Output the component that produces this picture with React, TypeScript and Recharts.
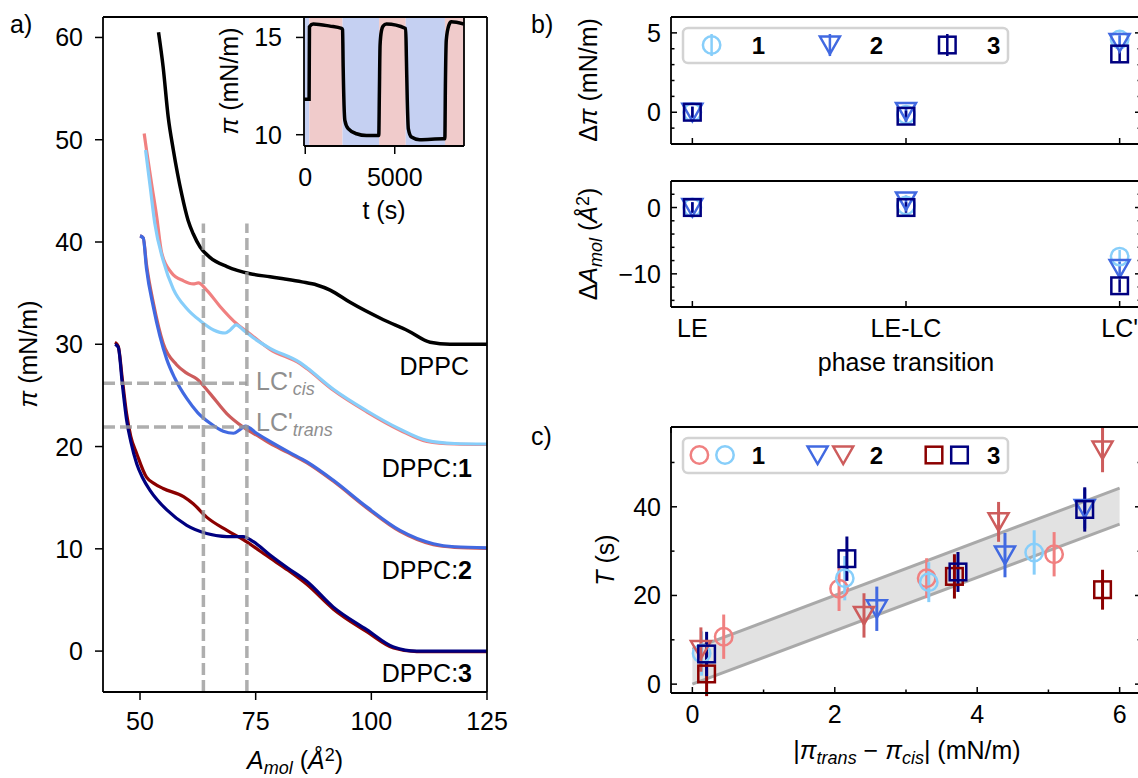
import React from 'react'
import {
  LineChart, Line, ComposedChart, Scatter, Area, XAxis, YAxis,
  ReferenceLine, ReferenceArea, ErrorBar,
} from 'recharts'

const FONT = '"Liberation Sans", Arial, sans-serif'
const FS = 25

// a) isotherms: molecular area (Å²) and surface pressure (mN/m)
const dppcA = [54.0, 55.0, 56.1, 57.2, 59.0, 60.4, 61.5, 63.0, 65.1, 68.8, 73.8, 78.1, 81.0, 85.0, 88.2, 91.1, 95.4, 102.6, 108.0, 112.7, 117.0, 125.0]
const dppcPi = [60.5, 57.1, 52.2, 49.0, 44.7, 42.1, 40.8, 39.5, 38.5, 37.6, 36.9, 36.6, 36.4, 36.1, 35.8, 35.3, 34.1, 32.4, 31.3, 30.2, 30.0, 30.0]

const d1CisA = [50.9, 51.4, 52.5, 53.6, 54.7, 56.8, 59.4, 61.5, 62.6, 64.4, 67.3, 70.9, 73.8, 78.1, 84.6, 86.1, 91.8, 99.0, 106.2, 112.0, 118.0, 125.0]
const d1CisPi = [50.6, 49.0, 45.7, 42.5, 38.9, 37.0, 36.2, 35.9, 36.0, 35.3, 33.7, 32.0, 31.0, 29.5, 28.1, 27.6, 25.5, 23.4, 21.6, 20.5, 20.25, 20.2]
const d1TransA = [51.2, 52.2, 53.2, 55.0, 57.2, 60.1, 63.0, 65.9, 68.4, 69.5, 70.8, 72.3, 75.2, 78.1, 84.6, 86.1, 91.8, 99.0, 106.2, 112.0, 118.0, 125.0]
const d1TransPi = [49.0, 45.4, 41.8, 38.2, 35.4, 33.5, 32.3, 31.4, 31.1, 31.4, 31.9, 31.4, 30.4, 29.6, 28.2, 27.7, 25.6, 23.5, 21.7, 20.6, 20.3, 20.25]

const d2CisA = [50.0, 50.7, 51.4, 52.9, 55.0, 57.9, 60.0, 62.3, 65.1, 68.8, 72.3, 76.0, 78.1, 82.0, 86.1, 91.8, 99.0, 106.2, 113.4, 118.0, 125.0]
const d2CisPi = [40.6, 40.4, 37.8, 34.0, 30.1, 28.0, 27.2, 26.6, 25.2, 23.2, 21.9, 20.9, 20.3, 19.4, 18.4, 16.6, 14.0, 11.7, 10.4, 10.15, 10.05]
const d2TransA = [50.0, 50.7, 51.4, 52.9, 54.3, 55.8, 57.5, 60.1, 62.5, 65.1, 68.0, 70.2, 71.6, 72.8, 75.2, 78.1, 82.0, 86.1, 91.8, 99.0, 106.2, 113.4, 118.0, 125.0]
const d2TransPi = [40.6, 40.4, 37.4, 33.6, 30.8, 28.5, 26.7, 24.7, 23.3, 22.3, 21.5, 21.3, 21.65, 22.0, 21.3, 20.5, 19.5, 18.5, 16.7, 14.1, 11.8, 10.5, 10.2, 10.1]

const d3CisA = [44.6, 45.3, 46.2, 47.1, 48.0, 49.3, 51.4, 53.0, 55.0, 59.4, 61.5, 64.4, 68.8, 72.3, 78.1, 82.0, 86.1, 91.8, 99.0, 104.8, 109.8, 125.0]
const d3CisPi = [30.2, 29.8, 26.5, 23.2, 21.0, 19.3, 17.0, 16.4, 15.9, 15.1, 14.4, 13.1, 11.8, 10.9, 9.1, 7.9, 6.5, 4.1, 1.9, 0.3, -0.05, -0.05]
const d3TransA = [44.6, 45.3, 46.2, 47.1, 48.0, 49.3, 50.5, 52.2, 55.8, 60.1, 64.4, 68.8, 72.3, 74.5, 78.1, 82.0, 86.1, 91.8, 99.0, 104.8, 109.8, 125.0]
const d3TransPi = [30.0, 29.7, 26.0, 22.6, 20.5, 18.3, 17.0, 15.7, 13.8, 12.3, 11.5, 11.2, 11.2, 10.7, 9.4, 8.1, 6.8, 4.3, 2.1, 0.4, 0.0, 0.0]

const lcAreas = [63.7, 73.1]
const lcPressures = [26.2, 21.9]

// inset: pressure vs time under alternating illumination
const insetT = [-70, 215, 235, 446, 1377, 2029, 2085, 2118, 2213, 2397, 2865, 3422, 4108, 4140, 4180, 4260, 4348, 4537, 5613, 5650, 5700, 5760, 5931, 6394, 7692, 7800, 7830, 7880, 8026, 8160, 8860]
const insetPi = [11.82, 11.82, 15.55, 15.69, 15.58, 15.46, 15.4, 13.5, 10.74, 10.31, 10.05, 9.96, 9.96, 12.0, 14.6, 15.35, 15.58, 15.69, 15.46, 14.0, 11.8, 10.3, 9.88, 9.74, 9.79, 9.79, 12.5, 14.86, 15.63, 15.8, 15.69]
const bandStart = [-70, 223, 2083, 4125, 5613, 7805]
const bandEnd = [223, 2083, 4125, 5613, 7805, 8870]
const bandColor = ['#c5d0f2', '#f0cbcb', '#c5d0f2', '#f0cbcb', '#c5d0f2', '#f0cbcb']

// b) changes at each phase transition
const phases = ['LE', 'LE-LC', "LC'"]
const dPi1 = [0.0, -0.15, 4.58]
const dPi2 = [0.0, 0.05, 4.39]
const dPi3 = [0.0, -0.25, 3.67]
const dPiErr = [0.35, 0.35, 0.45]
const dA1 = [0.0, 0.3, -7.4]
const dA2 = [0.0, 1.0, -9.2]
const dA3 = [0.0, 0.0, -11.8]
const dAErr = [0.8, 0.8, 1.0]

// c) relaxation time vs pressure difference
const c1RedX = [0.44, 2.06, 3.29, 5.08]
const c1RedY = [10.7, 21.5, 23.9, 29.3]
const c1BlueX = [0.13, 2.14, 3.32, 4.8]
const c1BlueY = [6.9, 23.9, 23.0, 29.7]
const c2BlueX = [2.59, 4.39, 5.51]
const c2BlueY = [17.0, 29.1, 39.6]
const c2RedX = [0.12, 2.41, 4.3, 5.76]
const c2RedY = [7.8, 15.5, 36.6, 52.8]
const c3RedX = [0.2, 3.68, 5.76]
const c3RedY = [2.3, 24.3, 21.3]
const c3BlueX = [0.2, 2.17, 3.73, 5.51]
const c3BlueY = [6.8, 28.3, 25.3, 39.4]
const cErr = [5, 5, 4.5, 5]
const fitX = [0, 6]
const fitLow = [0, 36.1]
const fitHigh = [7.9, 44.2]

const zip = (xs: number[], ys: number[], es?: number[]) =>
  xs.map((x, i) => ({ x, y: ys[i], e: es ? es[i % es.length] : 0 }))

const AX = { stroke: '#000', strokeWidth: 1.8 }

function AxisTick(props: any) {
  const { x, y, payload, side, gap = 0, inward = false, majors, majorLen = 6, minorLen = 3.5, fmt } = props
  const v = payload?.value
  const isMajor = !majors || majors.includes(v)
  const len = isMajor ? majorLen : minorLen
  const label = fmt ? fmt(v) : ''
  const dir = inward ? 1 : -1
  const ts = { fontFamily: FONT, fontSize: FS, fill: '#000' }
  let line: React.ReactNode = null
  let text: React.ReactNode = null
  if (side === 'left') {
    const ax = x + gap
    line = <line x1={ax} y1={y} x2={ax + dir * len} y2={y} stroke="#000" strokeWidth={1.5} />
    if (label) text = <text x={x} y={y} dy="0.36em" textAnchor="end" style={ts}>{label}</text>
  } else if (side === 'right') {
    const ax = x - gap
    line = <line x1={ax} y1={y} x2={ax - dir * len} y2={y} stroke="#000" strokeWidth={1.5} />
  } else if (side === 'bottom') {
    const ax = y - gap
    line = <line x1={x} y1={ax} x2={x} y2={ax - dir * len} stroke="#000" strokeWidth={1.5} />
    if (label) text = <text x={x} y={y} dy="0.72em" textAnchor="middle" style={ts}>{label}</text>
  } else {
    const ax = y + gap
    line = <line x1={x} y1={ax} x2={x} y2={ax + dir * len} stroke="#000" strokeWidth={1.5} />
  }
  return <g>{line}{text}</g>
}

function Marker({ kind, cx, cy, color, sw = 2.5 }: { kind: string, cx: number, cy: number, color: string, sw?: number }) {
  if (cx == null || cy == null) return null
  if (kind === 'o') return <circle cx={cx} cy={cy} r={8.7} fill="none" stroke={color} strokeWidth={sw} />
  if (kind === 'v') return <path d={`M${cx - 10},${cy - 8.5} L${cx + 10},${cy - 8.5} L${cx},${cy + 9} Z`} fill="none" stroke={color} strokeWidth={sw} />
  return <rect x={cx - 8.3} y={cy - 8.3} width={16.6} height={16.6} fill="none" stroke={color} strokeWidth={sw} />
}

function Txt({ x, y, children, rotate = false, anchor = 'middle', style }: any) {
  const tx = anchor === 'end' ? '-100%' : anchor === 'start' ? '0' : '-50%'
  return (
    <div style={{
      position: 'absolute', left: x, top: y, whiteSpace: 'nowrap', lineHeight: 1,
      fontFamily: FONT, fontSize: FS, color: '#000',
      transform: `translate(${tx}, -50%)${rotate ? ' rotate(-90deg)' : ''}`,
      ...style,
    }}>{children}</div>
  )
}

const Sub = ({ children }: any) => (
  <span style={{ fontSize: '0.72em', fontStyle: 'italic', position: 'relative', top: '0.3em' }}>{children}</span>
)
const Sup = ({ children }: any) => (
  <span style={{ fontSize: '0.72em', position: 'relative', top: '-0.45em' }}>{children}</span>
)

function IsothermChart() {
  const series = [
    { key: 'dppc', data: zip(dppcA, dppcPi), color: '#000000', w: 3.5 },
    { key: 'd1c', data: zip(d1CisA, d1CisPi), color: '#f08080', w: 3.2 },
    { key: 'd1t', data: zip(d1TransA, d1TransPi), color: '#87cefa', w: 3.2 },
    { key: 'd2c', data: zip(d2CisA, d2CisPi), color: '#cd5c5c', w: 3.2 },
    { key: 'd2t', data: zip(d2TransA, d2TransPi), color: '#4169e1', w: 3.2 },
    { key: 'd3c', data: zip(d3CisA, d3CisPi), color: '#8b0000', w: 3.2 },
    { key: 'd3t', data: zip(d3TransA, d3TransPi), color: '#000080', w: 3.2 },
  ]
  const dash = { stroke: '#9a9a9a', strokeOpacity: 0.8, strokeWidth: 3.5, strokeDasharray: '12 5' }
  return (
    <LineChart width={530} height={778} margin={{ top: 16, right: 42, left: 0, bottom: 0 }}>
      <XAxis xAxisId="b" dataKey="x" type="number" domain={[42, 125]} allowDataOverflow ticks={[50, 75, 100, 125]}
        interval={0} height={86} axisLine={AX} tickLine={false} tickSize={0} tickMargin={20}
        tick={<AxisTick side="bottom" gap={20} majorLen={8} fmt={(v: number) => String(v)} />} />
      <XAxis xAxisId="t" orientation="top" type="number" domain={[42, 125]} allowDataOverflow ticks={[50]}
        height={1} axisLine={AX} tickLine={false} tick={false} />
      <YAxis yAxisId="l" type="number" domain={[-4, 62]} allowDataOverflow ticks={[0, 10, 20, 30, 40, 50, 60]}
        interval={0} width={103} axisLine={AX} tickLine={false} tickSize={0} tickMargin={20}
        tick={<AxisTick side="left" gap={20} majorLen={8} fmt={(v: number) => String(v)} />} />
      <YAxis yAxisId="r" orientation="right" type="number" domain={[-4, 62]} allowDataOverflow ticks={[0]}
        width={1} axisLine={AX} tickLine={false} tick={false} />
      {series.map(s => (
        <Line key={s.key} xAxisId="b" yAxisId="l" data={s.data} dataKey="y" type="monotone"
          stroke={s.color} strokeWidth={s.w} dot={false} isAnimationActive={false} />
      ))}
      {lcAreas.map(a => (
        <ReferenceLine key={'v' + a} xAxisId="b" yAxisId="l" segment={[{ x: a, y: -4 }, { x: a, y: 41.8 }]} {...dash} />
      ))}
      {lcPressures.map(p => (
        <ReferenceLine key={'h' + p} xAxisId="b" yAxisId="l" segment={[{ x: 42, y: p }, { x: lcAreas[1], y: p }]} {...dash} />
      ))}
    </LineChart>
  )
}

function InsetChart() {
  const data = zip(insetT, insetPi)
  return (
    <LineChart width={250} height={230} margin={{ top: 16, right: 5, left: 0, bottom: 0 }}>
      <XAxis xAxisId="b" dataKey="x" type="number" domain={[-70, 8870]} allowDataOverflow ticks={[0, 5000]}
        interval={0} height={84} axisLine={AX} tickLine={false} tickSize={0} tickMargin={22}
        tick={<AxisTick side="bottom" gap={22} majorLen={8} fmt={(v: number) => String(v)} />} />
      <XAxis xAxisId="t" orientation="top" type="number" domain={[-70, 8870]} allowDataOverflow ticks={[0]}
        height={1} axisLine={AX} tickLine={false} tick={false} />
      <YAxis yAxisId="l" type="number" domain={[9.42, 16.05]} allowDataOverflow ticks={[10, 15]}
        interval={0} width={84} axisLine={AX} tickLine={false} tickSize={0} tickMargin={22}
        tick={<AxisTick side="left" gap={22} majorLen={8} fmt={(v: number) => String(v)} />} />
      <YAxis yAxisId="r" orientation="right" type="number" domain={[9.42, 16.05]} allowDataOverflow ticks={[10]}
        width={1} axisLine={AX} tickLine={false} tick={false} />
      {bandStart.map((s, i) => (
        <ReferenceArea key={i} xAxisId="b" yAxisId="l" x1={s} x2={bandEnd[i]} fill={bandColor[i]} fillOpacity={1} stroke="none" />
      ))}
      <Line xAxisId="b" yAxisId="l" data={data} dataKey="y" type="monotone" stroke="#000" strokeWidth={3.5}
        dot={false} isAnimationActive={false} />
    </LineChart>
  )
}

// frame axes with inward ticks on all four sides
function FrameAxes({ xDomain, xTicks, xMajors, xFmt, yDomain, yTicks, yMajors, yFmt, xHeight }: any) {
  return [
    <XAxis key="xb" xAxisId="b" dataKey="x" type="number" domain={xDomain} allowDataOverflow ticks={xTicks}
      interval={0} height={xHeight} axisLine={AX} tickLine={false} tickSize={0} tickMargin={12}
      tick={<AxisTick side="bottom" gap={12} inward majors={xMajors} fmt={xFmt} />} />,
    <XAxis key="xt" xAxisId="t" orientation="top" type="number" domain={xDomain} allowDataOverflow ticks={xTicks}
      interval={0} height={1} axisLine={AX} tickLine={false} tickSize={0} tickMargin={0}
      tick={<AxisTick side="top" inward majors={xMajors} />} />,
    <YAxis key="yl" yAxisId="l" dataKey="y" type="number" domain={yDomain} allowDataOverflow ticks={yTicks}
      interval={0} width={131} axisLine={AX} tickLine={false} tickSize={0} tickMargin={10}
      tick={<AxisTick side="left" gap={10} inward majors={yMajors} fmt={yFmt} />} />,
    <YAxis key="yr" yAxisId="r" orientation="right" type="number" domain={yDomain} allowDataOverflow ticks={yTicks}
      interval={0} width={1} axisLine={AX} tickLine={false} tickSize={0} tickMargin={0}
      tick={<AxisTick side="right" inward majors={yMajors} />} />,
  ]
}

function ScatterSet({ sets, ew }: { sets: { key: string, data: any[], kind: string, color: string }[], ew: number }) {
  return sets.map(s => (
    <Scatter key={s.key} xAxisId="b" yAxisId="l" data={s.data} dataKey="y" isAnimationActive={false}
      shape={(p: any) => <Marker kind={s.kind} cx={p.cx} cy={p.cy} color={s.color} />}>
      <ErrorBar dataKey="e" direction="y" width={0} stroke={s.color} strokeWidth={ew} isAnimationActive={false} />
    </Scatter>
  ))
}

const idx = [0, 1, 2]
const phaseFmt = (v: number) => phases[v] ?? ''

function DeltaPiChart() {
  const sets = [
    { key: 's1', data: zip(idx, dPi1, dPiErr), kind: 'o', color: '#87cefa' },
    { key: 's2', data: zip(idx, dPi2, dPiErr), kind: 'v', color: '#4169e1' },
    { key: 's3', data: zip(idx, dPi3, dPiErr), kind: 's', color: '#000080' },
  ]
  return (
    <ComposedChart width={603} height={150} margin={{ top: 16, right: 1, left: 0, bottom: 0 }}>
      {FrameAxes({
        xDomain: [-0.1, 2.1], xTicks: idx, xMajors: idx, xFmt: () => '', xHeight: 6,
        yDomain: [-2, 6], yTicks: [-2, -1, 0, 1, 2, 3, 4, 5, 6], yMajors: [0, 5], yFmt: (v: number) => (v === 0 || v === 5 ? String(v) : ''),
      })}
      {ScatterSet({ sets, ew: 2.5 })}
    </ComposedChart>
  )
}

function DeltaAChart() {
  const sets = [
    { key: 's1', data: zip(idx, dA1, dAErr), kind: 'o', color: '#87cefa' },
    { key: 's2', data: zip(idx, dA2, dAErr), kind: 'v', color: '#4169e1' },
    { key: 's3', data: zip(idx, dA3, dAErr), kind: 's', color: '#000080' },
  ]
  return (
    <ComposedChart width={603} height={200} margin={{ top: 16, right: 1, left: 0, bottom: 0 }}>
      {FrameAxes({
        xDomain: [-0.1, 2.1], xTicks: idx, xMajors: idx, xFmt: phaseFmt, xHeight: 57,
        yDomain: [-15, 4], yTicks: [-14, -12, -10, -8, -6, -4, -2, 0, 2], yMajors: [0, -10],
        yFmt: (v: number) => (v === 0 ? '0' : v === -10 ? '\u221210' : ''),
      })}
      {ScatterSet({ sets, ew: 2.5 })}
    </ComposedChart>
  )
}

function RelaxChart() {
  const band = fitX.map((x, i) => ({ x, low: fitLow[i], high: fitHigh[i], band: [fitLow[i], fitHigh[i]] }))
  const sets = [
    { key: 'c1r', data: zip(c1RedX, c1RedY, cErr), kind: 'o', color: '#f08080' },
    { key: 'c1b', data: zip(c1BlueX, c1BlueY, cErr), kind: 'o', color: '#87cefa' },
    { key: 'c2b', data: zip(c2BlueX, c2BlueY, cErr), kind: 'v', color: '#4169e1' },
    { key: 'c2r', data: zip(c2RedX, c2RedY, cErr), kind: 'v', color: '#cd5c5c' },
    { key: 'c3r', data: zip(c3RedX, c3RedY, cErr), kind: 's', color: '#8b0000' },
    { key: 'c3b', data: zip(c3BlueX, c3BlueY, cErr), kind: 's', color: '#000080' },
  ]
  return (
    <ComposedChart width={603} height={368} data={band} margin={{ top: 16, right: 1, left: 0, bottom: 0 }}>
      {FrameAxes({
        xDomain: [-0.3, 6.3], xTicks: [0, 1, 2, 3, 4, 5, 6], xMajors: [0, 2, 4, 6],
        xFmt: (v: number) => (v % 2 === 0 ? String(v) : ''), xHeight: 85,
        yDomain: [-2, 58], yTicks: [0, 10, 20, 30, 40, 50], yMajors: [0, 20, 40],
        yFmt: (v: number) => (v % 20 === 0 ? String(v) : ''),
      })}
      <Area xAxisId="b" yAxisId="l" dataKey="band" type="linear" fill="#e2e2e2" fillOpacity={1} stroke="none" isAnimationActive={false} />
      <Line xAxisId="b" yAxisId="l" dataKey="low" type="linear" stroke="#a9a9a9" strokeWidth={3} dot={false} isAnimationActive={false} />
      <Line xAxisId="b" yAxisId="l" dataKey="high" type="linear" stroke="#a9a9a9" strokeWidth={3} dot={false} isAnimationActive={false} />
      {ScatterSet({ sets, ew: 3 })}
    </ComposedChart>
  )
}

function LegendBox({ left, top, items }: { left: number, top: number, items: { x: number, kind: string, color: string, bar?: boolean }[] }) {
  const nums = [{ x: 758.5, t: '1' }, { x: 876.4, t: '2' }, { x: 993.8, t: '3' }]
  const cy = 18
  return (
    <svg width={330} height={40} style={{ position: 'absolute', left, top, overflow: 'visible' }}>
      <rect x={1} y={1} width={325} height={35} rx={5} fill="#fff" fillOpacity={0.85} stroke="#d3d3d3" strokeWidth={2.5} />
      {items.map((it, i) => (
        <g key={i}>
          {it.bar && <line x1={it.x - left} x2={it.x - left} y1={cy - 11} y2={cy + 11} stroke={it.color} strokeWidth={2.5} />}
          <Marker kind={it.kind} cx={it.x - left} cy={cy} color={it.color} />
        </g>
      ))}
      {nums.map(n => (
        <text key={n.t} x={n.x - left} y={cy} dy="0.36em" textAnchor="middle"
          style={{ fontFamily: FONT, fontSize: 24, fontWeight: 700 }}>{n.t}</text>
      ))}
    </svg>
  )
}

export default function App() {
  const pi = <i>π</i>
  return (
    <div style={{ position: 'fixed', left: 0, top: 0, width: 1138, height: 778, overflow: 'hidden', background: '#fff', fontFamily: FONT }}>
      <div style={{ position: 'absolute', left: 0, top: 0 }}><IsothermChart /></div>
      <div style={{ position: 'absolute', left: 220, top: 0 }}><InsetChart /></div>
      <div style={{ position: 'absolute', left: 540, top: 0 }}><DeltaPiChart /></div>
      <div style={{ position: 'absolute', left: 540, top: 164 }}><DeltaAChart /></div>
      <div style={{ position: 'absolute', left: 540, top: 410 }}><RelaxChart /></div>

      <LegendBox left={682} top={27} items={[
        { x: 711.6, kind: 'o', color: '#87cefa', bar: true },
        { x: 829.9, kind: 'v', color: '#4169e1', bar: true },
        { x: 947.3, kind: 's', color: '#000080', bar: true },
      ]} />
      <LegendBox left={682} top={437} items={[
        { x: 699.4, kind: 'o', color: '#f08080' },
        { x: 725.0, kind: 'o', color: '#87cefa' },
        { x: 817.6, kind: 'v', color: '#4169e1' },
        { x: 843.2, kind: 'v', color: '#cd5c5c' },
        { x: 934.0, kind: 's', color: '#8b0000' },
        { x: 959.5, kind: 's', color: '#000080' },
      ]} />

      {/* panel letters */}
      <Txt x={10} y={24} anchor="start">a)</Txt>
      <Txt x={531} y={24} anchor="start">b)</Txt>
      <Txt x={531} y={436} anchor="start">c)</Txt>

      {/* panel a texts */}
      <Txt x={28} y={354} rotate>{pi} (mN/m)</Txt>
      <Txt x={295} y={760}><i>A</i><Sub>mol</Sub> (<i>Å</i><Sup>2</Sup>)</Txt>
      <Txt x={229} y={81} rotate>{pi} (mN/m)</Txt>
      <Txt x={384} y={210}>t (s)</Txt>
      <Txt x={469} y={366} anchor="end">DPPC</Txt>
      <Txt x={472} y={468} anchor="end">DPPC:<b>1</b></Txt>
      <Txt x={472} y={570} anchor="end">DPPC:<b>2</b></Txt>
      <Txt x={472} y={673} anchor="end">DPPC:<b>3</b></Txt>
      <Txt x={256} y={381} anchor="start" style={{ color: '#8f8f8f' }}>LC'<Sub>cis</Sub></Txt>
      <Txt x={256} y={422} anchor="start" style={{ color: '#8f8f8f' }}>LC'<Sub>trans</Sub></Txt>

      {/* panel b texts */}
      <Txt x={588} y={80} rotate>Δ{pi} (mN/m)</Txt>
      <Txt x={588} y={244} rotate>Δ<i>A</i><Sub>mol</Sub> (<i>Å</i><Sup>2</Sup>)</Txt>
      <Txt x={906} y={362}>phase transition</Txt>

      {/* panel c texts */}
      <Txt x={605} y={560} rotate><i>T</i> (s)</Txt>
      <Txt x={907} y={750}>|{pi}<Sub>trans</Sub> − {pi}<Sub>cis</Sub>| (mN/m)</Txt>
    </div>
  )
}
